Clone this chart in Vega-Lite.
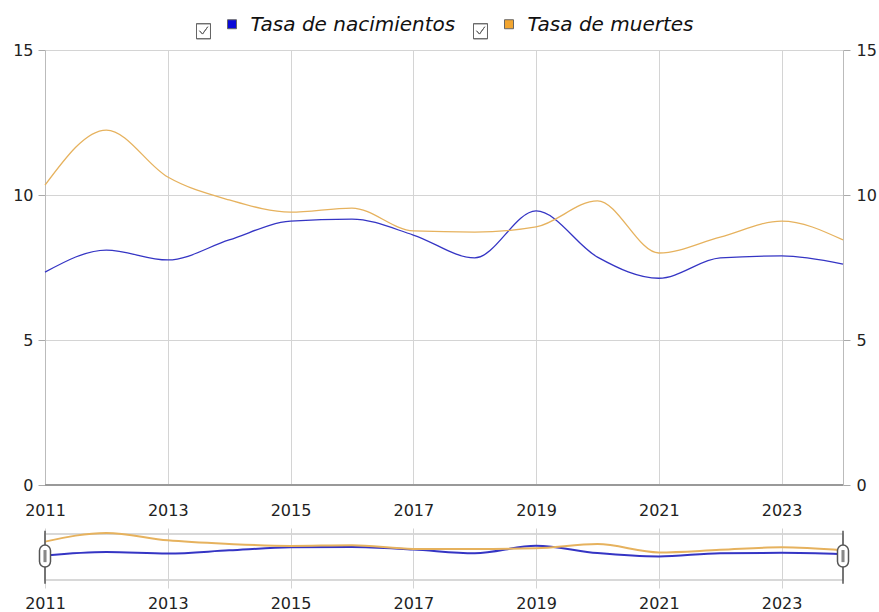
{
  "$schema": "https://vega.github.io/schema/vega-lite/v6.json",
  "padding": {"left": 12, "top": 3, "right": 0, "bottom": 0},
  "autosize": {"type": "pad"},
  "background": "white",
  "datasets": {
    "rates": [
      {"year": 2011, "serie": "Tasa de nacimientos", "value": 7.34},
      {"year": 2012, "serie": "Tasa de nacimientos", "value": 8.1},
      {"year": 2013, "serie": "Tasa de nacimientos", "value": 7.76},
      {"year": 2014, "serie": "Tasa de nacimientos", "value": 8.45},
      {"year": 2015, "serie": "Tasa de nacimientos", "value": 9.1},
      {"year": 2016, "serie": "Tasa de nacimientos", "value": 9.17},
      {"year": 2017, "serie": "Tasa de nacimientos", "value": 8.62},
      {"year": 2018, "serie": "Tasa de nacimientos", "value": 7.83},
      {"year": 2019, "serie": "Tasa de nacimientos", "value": 9.45},
      {"year": 2020, "serie": "Tasa de nacimientos", "value": 7.86},
      {"year": 2021, "serie": "Tasa de nacimientos", "value": 7.13},
      {"year": 2022, "serie": "Tasa de nacimientos", "value": 7.83},
      {"year": 2023, "serie": "Tasa de nacimientos", "value": 7.9},
      {"year": 2024, "serie": "Tasa de nacimientos", "value": 7.62},
      {"year": 2011, "serie": "Tasa de muertes", "value": 10.34},
      {"year": 2012, "serie": "Tasa de muertes", "value": 12.24},
      {"year": 2013, "serie": "Tasa de muertes", "value": 10.62},
      {"year": 2014, "serie": "Tasa de muertes", "value": 9.83},
      {"year": 2015, "serie": "Tasa de muertes", "value": 9.41},
      {"year": 2016, "serie": "Tasa de muertes", "value": 9.55},
      {"year": 2017, "serie": "Tasa de muertes", "value": 8.76},
      {"year": 2018, "serie": "Tasa de muertes", "value": 8.72},
      {"year": 2019, "serie": "Tasa de muertes", "value": 8.9},
      {"year": 2020, "serie": "Tasa de muertes", "value": 9.8},
      {"year": 2021, "serie": "Tasa de muertes", "value": 8.0},
      {"year": 2022, "serie": "Tasa de muertes", "value": 8.55},
      {"year": 2023, "serie": "Tasa de muertes", "value": 9.1},
      {"year": 2024, "serie": "Tasa de muertes", "value": 8.45}
    ],
    "handles": [{"year": 2011}, {"year": 2024}]
  },
  "resolve": {"scale": {"stroke": "shared", "fill": "shared"}},
  "spacing": 8,
  "vconcat": [
    {
      "width": 798,
      "height": 435,
      "view": {"stroke": null},
      "data": {"name": "rates"},
      "layer": [
        {
          "mark": {"type": "line", "interpolate": "monotone", "strokeWidth": 1.3},
          "encoding": {
            "x": {
              "field": "year", "type": "quantitative",
              "scale": {"domain": [2011, 2024], "nice": false, "zero": false},
              "axis": {
                "values": [2011, 2013, 2015, 2017, 2019, 2021, 2023],
                "format": "d", "title": null, "grid": true, "gridColor": "#d4d4d4",
                "ticks": false, "labelPadding": 17, "labelFlush": false,
                "domainColor": "#999999", "labelFontSize": 16, "labelColor": "#222222"
              }
            },
            "y": {
              "field": "value", "type": "quantitative",
              "scale": {"domain": [0, 15], "nice": false},
              "axis": {
                "orient": "left", "values": [0, 5, 10, 15], "title": null,
                "grid": true, "gridColor": "#d4d4d4", "domainColor": "#bbbbbb",
                "tickColor": "#aaaaaa", "tickSize": 7, "labelPadding": 5,
                "labelFontSize": 16, "labelColor": "#222222"
              }
            },
            "stroke": {
              "field": "serie", "type": "nominal",
              "scale": {"range": ["#e6b25e", "#3535c4"]},
              "legend": null
            }
          }
        },
        {
          "mark": {"type": "point", "filled": true, "shape": "square", "size": 1, "opacity": 0, "strokeWidth": 0},
          "encoding": {
            "x": {"field": "year", "type": "quantitative"},
            "y": {"field": "value", "type": "quantitative", "axis": null},
            "fill": {
              "field": "serie", "type": "nominal",
              "scale": {"domain": ["Tasa de nacimientos", "Tasa de muertes"], "range": ["#0a0ad8", "#f2a530"]},
              "legend": {
                "orient": "none", "direction": "horizontal",
                "legendX": 150.5, "legendY": -47,
                "title": null, "padding": 0,
                "symbolType": "M0.5,-0.238L0.929,-0.238L0.929,0.19L0.5,0.19Z M-0.976,-0.048L-0.31,-0.048L-0.31,0.667L-0.976,0.667L-0.976,-0.048L-0.976,0.667L-0.31,0.667L-0.31,-0.048Z M-0.833,0.286L-0.69,0.443L-0.438,0.095L-0.69,0.443Z",
                "symbolSize": 1764,
                "symbolStrokeWidth": 1,
                "symbolStrokeColor": "#666666",
                "symbolOpacity": 1,
                "labelOffset": 12,
                "columnPadding": 16,
                "labelFont": "DejaVu Sans", "labelFontSize": 20, "labelFontStyle": "italic",
                "labelColor": "#111111", "labelLimit": 400,
                "encode": {
                  "symbols": {
                    "update": {
                      "stroke": {"value": "#666666"},
                      "strokeWidth": {"value": 1},
                      "opacity": {"value": 1},
                      "fillOpacity": {"value": 1}
                    }
                  }
                }
              }
            }
          }
        },
        {
          "mark": {"type": "rule", "color": "#999999", "strokeWidth": 1},
          "encoding": {
            "y": {
              "datum": 0, "type": "quantitative",
              "axis": {
                "orient": "right", "values": [0, 5, 10, 15], "title": null,
                "grid": false, "domainColor": "#bbbbbb",
                "tickColor": "#aaaaaa", "tickSize": 7, "labelPadding": 6,
                "labelFontSize": 16, "labelColor": "#222222"
              }
            }
          }
        }
      ],
      "resolve": {"axis": {"y": "independent"}}
    },
    {
      "width": 798,
      "height": 46,
      "view": {"stroke": "#cccccc", "strokeWidth": 1.5},
      "layer": [
        {
          "data": {"name": "rates"},
          "mark": {"type": "line", "interpolate": "monotone", "strokeWidth": 2, "clip": false},
          "encoding": {
            "x": {
              "field": "year", "type": "quantitative",
              "scale": {"domain": [2011, 2024], "nice": false, "zero": false},
              "axis": {
                "values": [2011, 2013, 2015, 2017, 2019, 2021, 2023],
                "format": "d", "title": null, "grid": true, "gridColor": "#d4d4d4",
                "ticks": true, "tickColor": "#d4d4d4", "tickSize": 8,
                "domain": false, "labelPadding": 7, "labelFlush": false,
                "labelFontSize": 16, "labelColor": "#222222"
              }
            },
            "y": {
              "field": "value", "type": "quantitative",
              "scale": {"domain": [2, 12], "nice": false, "zero": false},
              "axis": null
            },
            "stroke": {"field": "serie", "type": "nominal", "legend": null}
          }
        },
        {
          "data": {"name": "handles"},
          "mark": {"type": "rule", "color": "#555555", "strokeWidth": 1.5, "clip": false},
          "encoding": {
            "x": {"field": "year", "type": "quantitative",
              "axis": {
                "orient": "top", "values": [2011, 2013, 2015, 2017, 2019, 2021, 2023],
                "labels": false, "domain": false, "grid": false, "title": null,
                "ticks": true, "tickColor": "#d4d4d4", "tickSize": 6
              }},
            "y": {"datum": 1.2, "type": "quantitative"},
            "y2": {"datum": 12.7}
          }
        },
        {
          "data": {"name": "handles"},
          "mark": {
            "type": "point", "filled": true, "fill": "white", "stroke": "#555555",
            "strokeWidth": 1.5, "opacity": 1, "size": 484,
            "shape": "M-0.5,-0.5A0.5,0.5 0 0 1 0.5,-0.5L0.5,0.5A0.5,0.5 0 0 1 -0.5,0.5Z",
            "clip": false
          },
          "encoding": {
            "x": {"field": "year", "type": "quantitative", "axis": null},
            "y": {"datum": 7.2, "type": "quantitative"}
          }
        },
        {
          "data": {"name": "handles"},
          "mark": {
            "type": "point", "filled": true, "fill": "#888888", "strokeWidth": 0,
            "opacity": 1, "size": 484,
            "shape": "M-0.14,-0.55L0.14,-0.55L0.14,0.55L-0.14,0.55Z",
            "clip": false
          },
          "encoding": {
            "x": {"field": "year", "type": "quantitative", "axis": null},
            "y": {"datum": 7.2, "type": "quantitative"}
          }
        }
      ],
      "resolve": {"axis": {"x": "independent"}}
    }
  ],
  "config": {
    "font": "DejaVu Sans",
    "axis": {"labelFont": "DejaVu Sans"}
  }
}
